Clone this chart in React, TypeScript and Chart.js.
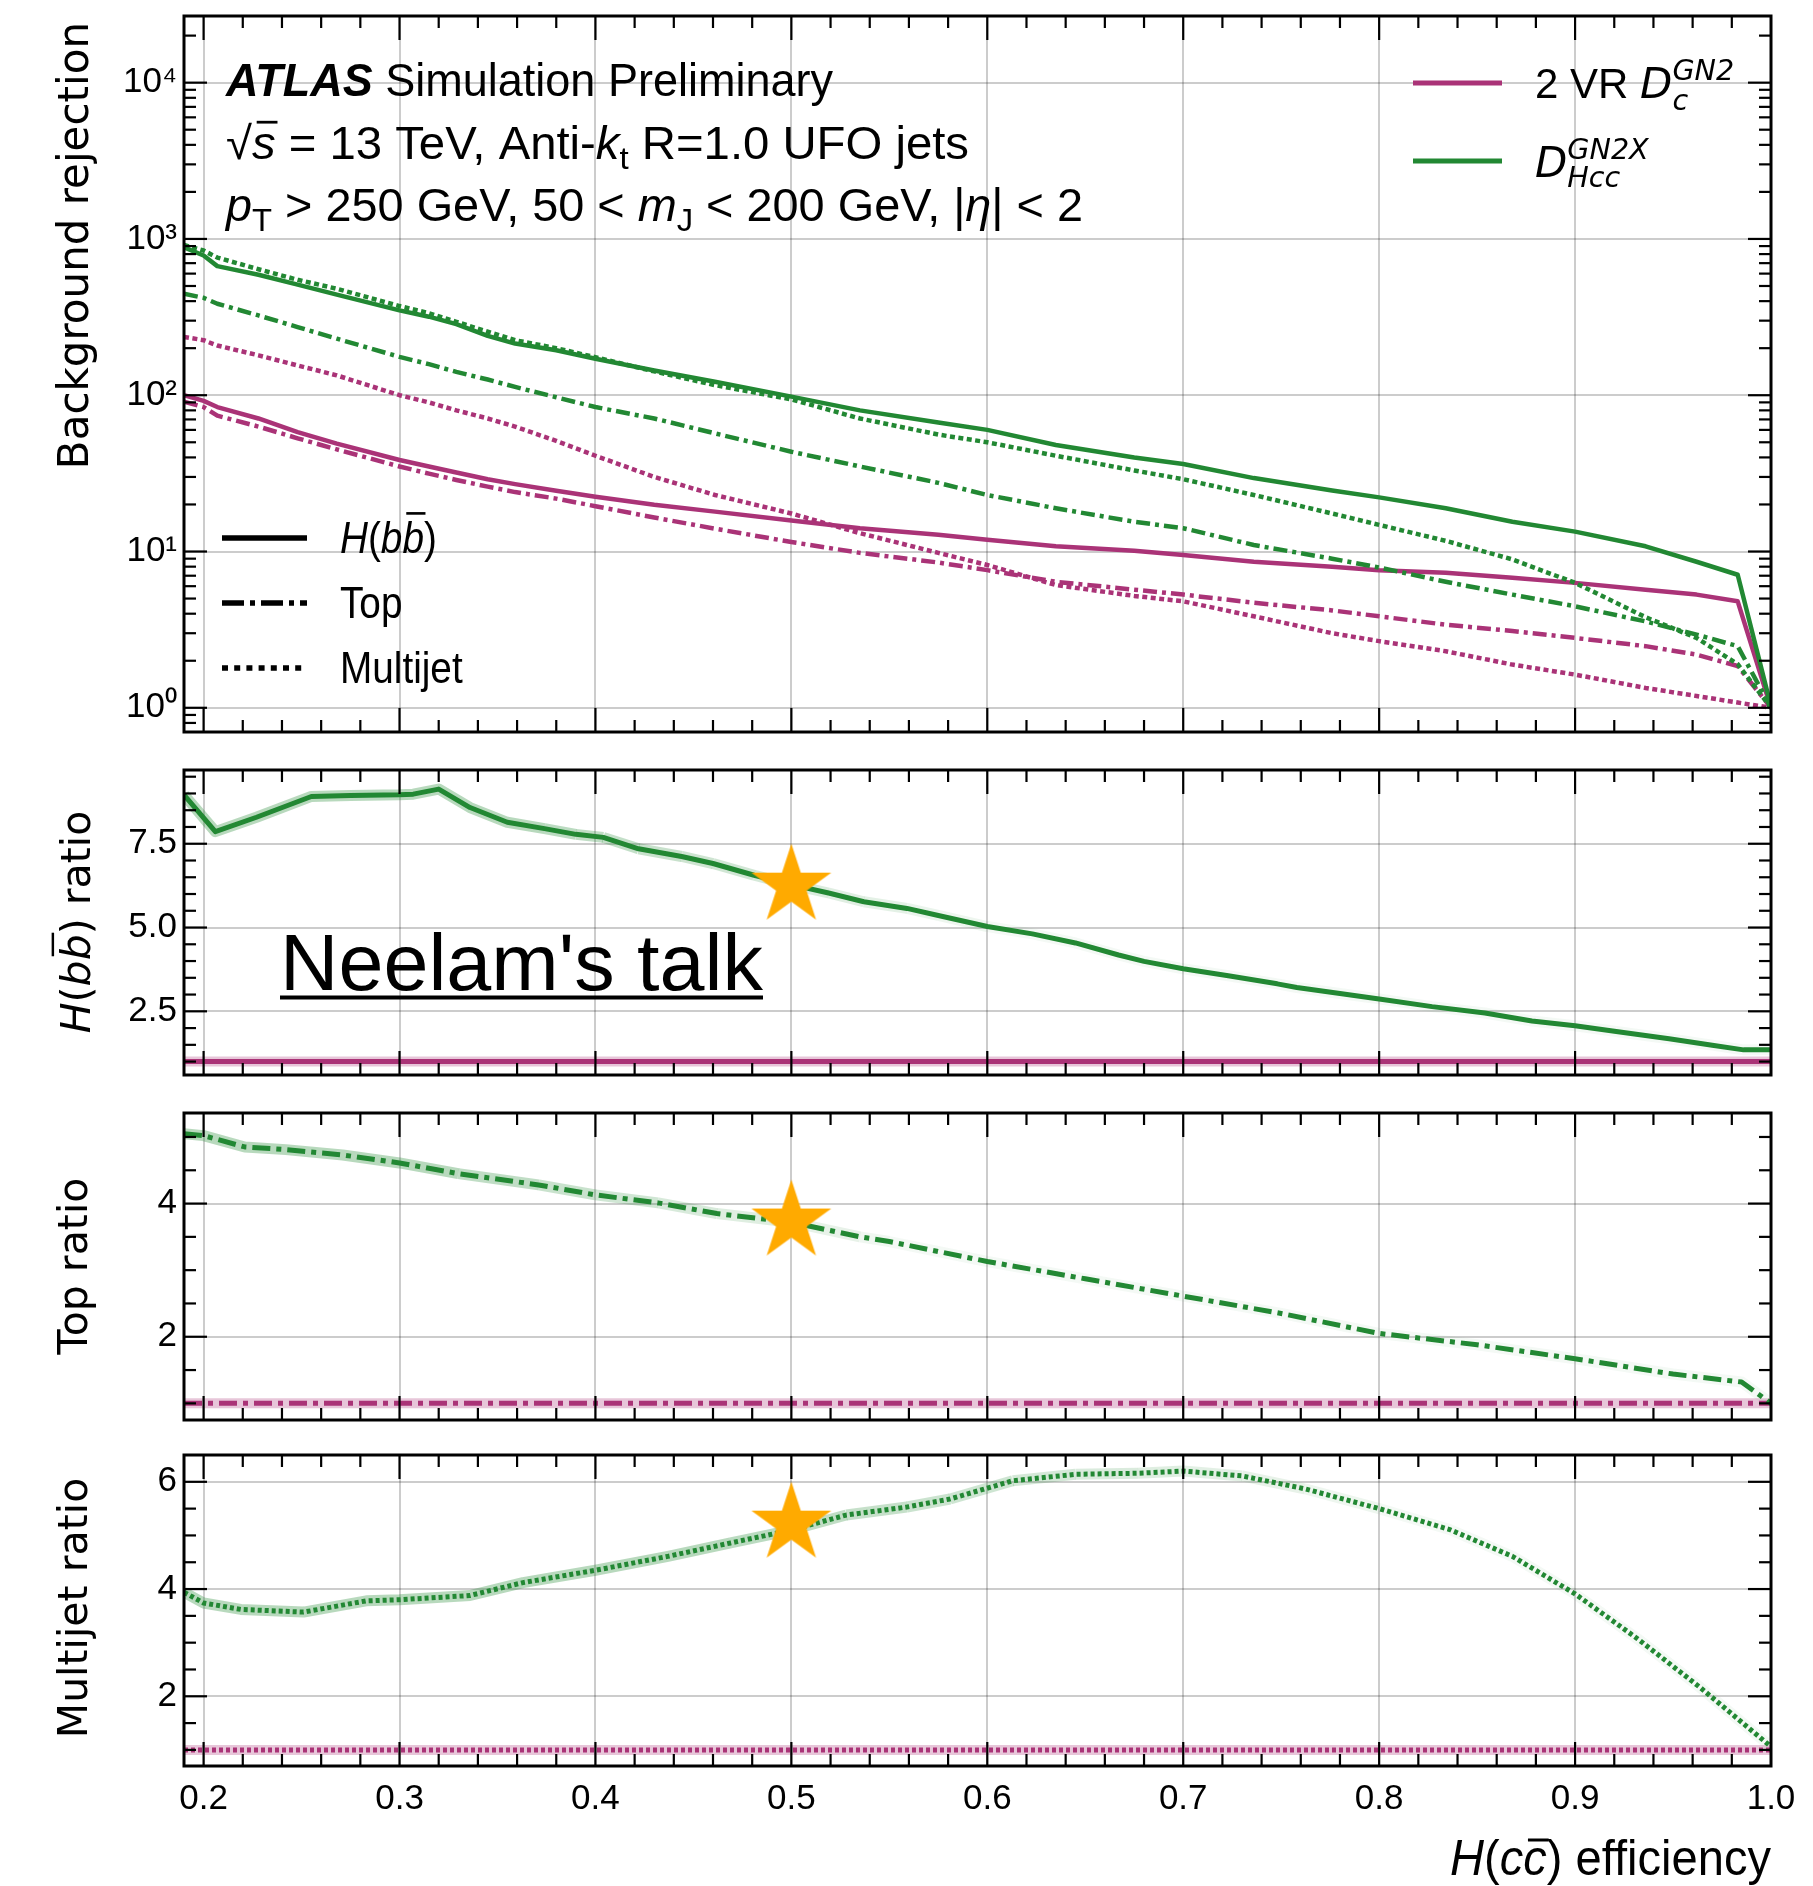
import React, { useEffect, useRef } from 'react';
import { Chart, registerables } from 'chart.js';

Chart.register(...registerables);

// ================= DATA =================
// Top panel: background rejection vs H(cc) efficiency
const effTop = [0.19, 0.2, 0.207, 0.228, 0.248, 0.268, 0.3, 0.315, 0.329, 0.345, 0.359, 0.38, 0.4, 0.43, 0.461, 0.5, 0.535, 0.575, 0.6, 0.635, 0.675, 0.7, 0.736, 0.776, 0.8, 0.834, 0.868, 0.9, 0.936, 0.962, 0.983, 1.0];
const gn2xHbbRej = [885, 783, 670, 590, 510, 440, 349, 318, 285, 240, 214, 194, 171, 144, 122, 98, 80, 67, 60, 48, 40, 36.3, 29.5, 24.6, 22.2, 18.9, 15.5, 13.4, 10.8, 8.6, 7.1, 1.02];
const gn2xTopRej = [446, 420, 385, 324, 273, 230, 176, 158, 141, 126, 113, 97, 84, 71, 57, 43.5, 35, 27.5, 23, 18.9, 15.5, 14.1, 11, 9.0, 7.9, 6.4, 5.3, 4.46, 3.57, 2.94, 2.48, 1.0];
const gn2xMJRej = [915, 843, 760, 640, 548, 480, 372, 335, 295, 255, 225, 200, 175, 142, 116, 94, 71, 56, 50, 41, 33, 29, 23, 17.5, 14.8, 11.7, 8.9, 6.3, 3.8, 2.8, 1.9, 1.0];
const gn2HbbRej = [100, 92, 84, 71, 58, 49, 38.5, 35, 32, 29, 27, 24.5, 22.4, 19.9, 18, 15.8, 14.1, 12.8, 11.9, 10.8, 10.1, 9.5, 8.6, 8.0, 7.6, 7.3, 6.8, 6.3, 5.7, 5.3, 4.8, 1.0];
const gn2TopRej = [91, 84, 74, 63, 53, 45, 35, 31.5, 28.7, 26, 24, 21.8, 19.5, 16.5, 14.0, 11.5, 9.8, 8.5, 7.6, 6.4, 5.7, 5.3, 4.7, 4.2, 3.85, 3.4, 3.1, 2.8, 2.48, 2.19, 1.85, 1.0];
const gn2MJRej = [236, 225, 208, 180, 155, 134, 100, 90, 80, 71, 63, 51, 41, 30, 23, 17.5, 13.1, 9.8, 8.2, 6.1, 5.2, 4.8, 3.85, 3.0, 2.67, 2.3, 1.89, 1.63, 1.34, 1.19, 1.08, 1.0];

// Ratio panels (GN2X / GN2)
const ratioEffHbb = [0.19, 0.206, 0.227, 0.255, 0.275, 0.3, 0.307, 0.32, 0.336, 0.355, 0.374, 0.39, 0.404, 0.422, 0.444, 0.46, 0.481, 0.5, 0.519, 0.537, 0.559, 0.575, 0.6, 0.623, 0.645, 0.667, 0.68, 0.7, 0.723, 0.748, 0.758, 0.78, 0.8, 0.827, 0.854, 0.878, 0.9, 0.921, 0.948, 0.97, 0.986, 1.0];
const ratioHbb = [8.96, 7.86, 8.29, 8.91, 8.94, 8.96, 8.98, 9.13, 8.58, 8.14, 7.95, 7.78, 7.69, 7.35, 7.12, 6.91, 6.56, 6.28, 6.03, 5.77, 5.57, 5.36, 5.03, 4.81, 4.54, 4.18, 3.99, 3.77, 3.56, 3.32, 3.21, 3.03, 2.87, 2.64, 2.45, 2.21, 2.07, 1.9, 1.68, 1.49, 1.35, 1.35];
const ratioEffTop = [0.19, 0.2, 0.221, 0.242, 0.271, 0.3, 0.33, 0.371, 0.4, 0.432, 0.462, 0.5, 0.535, 0.55, 0.6, 0.65, 0.7, 0.75, 0.8, 0.85, 0.9, 0.95, 0.985, 1.0];
const ratioTop = [5.05, 5.02, 4.85, 4.81, 4.73, 4.61, 4.45, 4.28, 4.13, 4.01, 3.85, 3.72, 3.5, 3.43, 3.13, 2.87, 2.61, 2.35, 2.05, 1.88, 1.67, 1.44, 1.32, 1.0];
const ratioEffMJ = [0.19, 0.2, 0.219, 0.251, 0.283, 0.3, 0.336, 0.363, 0.4, 0.437, 0.469, 0.5, 0.528, 0.559, 0.581, 0.613, 0.645, 0.677, 0.7, 0.73, 0.762, 0.8, 0.836, 0.868, 0.9, 0.932, 0.964, 1.0];
const ratioMJ = [3.94, 3.74, 3.62, 3.57, 3.78, 3.8, 3.88, 4.12, 4.35, 4.61, 4.86, 5.1, 5.38, 5.53, 5.68, 6.02, 6.14, 6.16, 6.2, 6.11, 5.87, 5.5, 5.11, 4.61, 3.91, 3.07, 2.16, 1.06];
const refEff = [0.19, 1.0];
const refRatio = [1, 1];

// Working-point stars
const starEff = [0.5];
const starHbb = [6.25];
const starTop = [3.73];
const starMJ = [5.22];

// Tick labels
const xTickValues = [0.2, 0.3, 0.4, 0.5, 0.6, 0.7, 0.8, 0.9, 1.0];
const xTickLabels = ['0.2', '0.3', '0.4', '0.5', '0.6', '0.7', '0.8', '0.9', '1.0'];
const rejTickValues = [1, 10, 100, 1000, 10000];
const rejTickLabels = ['10\u2070', '10\u00B9', '10\u00B2', '10\u00B3', '10\u2074'];
const hbbTickValues = [2.5, 5, 7.5];
const hbbTickLabels = ['2.5', '5.0', '7.5'];
const topTickValues = [2, 4];
const topTickLabels = ['2', '4'];
const mjTickValues = [2, 4, 6];
const mjTickLabels = ['2', '4', '6'];

// ================= STYLE =================
const MAGENTA = '#AA3377';
const GREEN = '#228833';
const STAR = '#FFAA00';
const HALO_M = 'rgba(170,51,119,0.28)';
const GRID = 'rgba(0,0,0,0.2)';
const SANS = '"Liberation Sans", Arial, Helvetica, sans-serif';
const DJV = '"DejaVu Sans", sans-serif';
const DASHDOT = [14, 5, 4, 5];
const DOT = [5, 3.5];
const R_DASHDOT = [18, 6, 5, 6];
const R_DOT = [4, 3];
const LEG_DASHDOT = [22, 6, 5, 6];
const LEG_DOT = [6, 6.2];

const PAGE_W = 1813;
const PLOT_L = 184;
const PLOT_R = 1771;
const X_MIN = 0.19;
const X_MAX = 1.0;

const close = (a: number, b: number) => Math.abs(a - b) < 1e-6 * Math.max(1, Math.abs(b));
const labelFor = (vals: number[], labs: string[], v: number) => {
  const i = vals.findIndex((m) => close(m, v));
  return i >= 0 ? labs[i] : '';
};
const pts = (xs: number[], ys: number[]) => xs.map((x, i) => ({ x, y: ys[i] }));

const xMinorTicks = Array.from({ length: 41 }, (_, i) => Math.round((0.2 + 0.02 * i) * 100) / 100);
function linTicks(min: number, max: number, step: number) {
  const out: number[] = [];
  for (let v = Math.ceil(min / step - 1e-9) * step; v <= max + 1e-9; v += step) out.push(Math.round(v * 1000) / 1000);
  return out;
}
function logTicks(min: number, max: number) {
  const out: number[] = [];
  for (let e = Math.floor(Math.log10(min)); e <= Math.floor(Math.log10(max)); e++) {
    for (let m = 1; m <= 9; m++) {
      const v = parseFloat((m * Math.pow(10, e)).toPrecision(6));
      if (v >= min && v <= max) out.push(v);
    }
  }
  return out;
}

// ================= TEXT HELPERS =================
type Run = { t: string; it?: boolean; b?: boolean; s?: number; dy?: number; fam?: string; over?: boolean; ov?: number; stack?: boolean };
function setFont(ctx: CanvasRenderingContext2D, r: Run, size: number, fam: string) {
  ctx.font = `${r.it ? 'italic ' : ''}${r.b ? 'bold ' : ''}${(size * (r.s ?? 1)).toFixed(1)}px ${r.fam ?? fam}`;
}
function runsWidth(ctx: CanvasRenderingContext2D, runs: Run[], size: number, fam: string) {
  let w = 0;
  let pend = 0;
  for (const r of runs) {
    setFont(ctx, r, size, fam);
    const m = ctx.measureText(r.t).width;
    if (r.stack) pend = m;
    else {
      w += Math.max(m, pend);
      pend = 0;
    }
  }
  return w + pend;
}
function drawRuns(
  ctx: CanvasRenderingContext2D,
  runs: Run[],
  x: number,
  y: number,
  size: number,
  fam: string,
  o: { align?: 'left' | 'right' | 'center'; width?: number; sx?: number } = {}
) {
  const w = runsWidth(ctx, runs, size, fam);
  const sx = o.width ? o.width / w : o.sx ?? 1;
  const tw = w * sx;
  const x0 = o.align === 'right' ? x - tw : o.align === 'center' ? x - tw / 2 : x;
  ctx.save();
  ctx.translate(x0, y);
  ctx.scale(sx, 1);
  ctx.fillStyle = '#000';
  ctx.strokeStyle = '#000';
  ctx.textBaseline = 'alphabetic';
  ctx.textAlign = 'left';
  let cx = 0;
  let pend = 0;
  for (const r of runs) {
    setFont(ctx, r, size, fam);
    const m = ctx.measureText(r.t).width;
    const fs = size * (r.s ?? 1);
    const dy = (r.dy ?? 0) * size;
    ctx.fillText(r.t, cx, dy);
    if (r.over) {
      const oy = dy - fs * (r.ov ?? 0.88);
      ctx.lineWidth = Math.max(2, fs * 0.06);
      ctx.beginPath();
      ctx.moveTo(cx + fs * 0.1, oy);
      ctx.lineTo(cx + m + fs * 0.04, oy);
      ctx.stroke();
    }
    if (r.stack) pend = m;
    else {
      cx += Math.max(m, pend);
      pend = 0;
    }
  }
  ctx.restore();
  return tw;
}
function vTitle(ctx: CanvasRenderingContext2D, runs: Run[], cx: number, cy: number, size: number, fam: string, align: 'left' | 'right' | 'center') {
  ctx.save();
  ctx.translate(cx, cy);
  ctx.rotate(-Math.PI / 2);
  drawRuns(ctx, runs, 0, size * 0.36, size, fam, { align });
  ctx.restore();
}
function hLine(ctx: CanvasRenderingContext2D, x1: number, x2: number, y: number, color: string, w: number, dash: number[]) {
  ctx.save();
  ctx.strokeStyle = color;
  ctx.lineWidth = w;
  ctx.lineCap = 'butt';
  ctx.setLineDash(dash);
  ctx.beginPath();
  ctx.moveTo(x1, y);
  ctx.lineTo(x2, y);
  ctx.stroke();
  ctx.restore();
}

function makeStar(R: number, color: string) {
  const c = document.createElement('canvas');
  const s = Math.ceil(2 * R + 4);
  c.width = s;
  c.height = s;
  const g = c.getContext('2d')!;
  g.translate(s / 2, s / 2);
  g.beginPath();
  for (let i = 0; i < 10; i++) {
    const r = i % 2 === 0 ? R : R * 0.382;
    const a = -Math.PI / 2 + (i * Math.PI) / 5;
    g.lineTo(r * Math.cos(a), r * Math.sin(a));
  }
  g.closePath();
  g.fillStyle = color;
  g.fill();
  return c;
}

// ================= PANELS =================
type Spec = {
  top: number;
  bottom: number;
  canvasTop: number;
  canvasH: number;
  xAxisH: number;
  showX: boolean;
  yType: 'linear' | 'logarithmic';
  yMin: number;
  yMax: number;
  yMajor: number[];
  yLabels: string[];
  datasets: any[];
  draw: (ctx: CanvasRenderingContext2D) => void;
};

const lineDs = (xs: number[], ys: number[], color: string, dash: number[], width: number) => ({
  data: pts(xs, ys),
  borderColor: color,
  backgroundColor: color,
  borderWidth: width,
  borderDash: dash,
  borderCapStyle: 'butt',
  borderJoinStyle: 'round',
  pointRadius: 0,
  pointHoverRadius: 0,
  fill: false,
  tension: 0,
});
// translucent uncertainty halo that fades towards high efficiency
const haloDs = (xs: number[], ys: number[], fadeFrom: number, fadeTo: number) => ({
  ...lineDs(xs, ys, 'rgba(34,136,51,0.3)', [], 11),
  segment: {
    borderColor: (c: any) => {
      const x = c.p0.parsed.x;
      const a = x <= fadeFrom ? 0.32 : x >= fadeTo ? 0.05 : 0.32 - ((x - fadeFrom) / (fadeTo - fadeFrom)) * 0.27;
      return `rgba(34,136,51,${a.toFixed(3)})`;
    },
  },
});
const starDs = (xs: number[], ys: number[], img: HTMLCanvasElement) => ({
  data: pts(xs, ys),
  showLine: false,
  pointStyle: img,
  pointRadius: 20,
  pointHoverRadius: 20,
  borderWidth: 0,
  backgroundColor: STAR,
  borderColor: STAR,
});

function buildSpecs(star: HTMLCanvasElement): Spec[] {
  const p1: Spec = {
    top: 16, bottom: 732, canvasTop: 2, canvasH: 744, xAxisH: 14, showX: false,
    yType: 'logarithmic', yMin: 0.724, yMax: 26700, yMajor: rejTickValues, yLabels: rejTickLabels,
    datasets: [
      lineDs(effTop, gn2xHbbRej, GREEN, [], 4.5),
      lineDs(effTop, gn2xTopRej, GREEN, DASHDOT, 4.5),
      lineDs(effTop, gn2xMJRej, GREEN, DOT, 4.5),
      lineDs(effTop, gn2HbbRej, MAGENTA, [], 4.5),
      lineDs(effTop, gn2TopRej, MAGENTA, DASHDOT, 4.5),
      lineDs(effTop, gn2MJRej, MAGENTA, DOT, 4.5),
    ],
    draw: (ctx) => {
      drawRuns(ctx, [{ t: 'ATLAS', b: true, it: true }, { t: ' Simulation Preliminary' }], 226, 96, 46, SANS, { width: 607 });
      drawRuns(
        ctx,
        [
          { t: '\u221A' },
          { t: 's', it: true, over: true, ov: 0.8 },
          { t: ' = 13 TeV, Anti-' },
          { t: 'k', it: true },
          { t: 't', s: 0.7, dy: 0.22 },
          { t: ' R=1.0 UFO jets' },
        ],
        226, 159, 46, SANS, { width: 743 }
      );
      drawRuns(
        ctx,
        [
          { t: 'p', it: true },
          { t: 'T', s: 0.7, dy: 0.22 },
          { t: ' > 250 GeV, 50 < ' },
          { t: 'm', it: true },
          { t: 'J', s: 0.7, dy: 0.22 },
          { t: ' < 200 GeV, |' },
          { t: '\u03B7', it: true },
          { t: '| < 2' },
        ],
        226, 221, 46, SANS, { width: 857 }
      );
      // top-right legend
      hLine(ctx, 1413, 1502, 83, MAGENTA, 5, []);
      hLine(ctx, 1413, 1502, 161, GREEN, 5, []);
      drawRuns(
        ctx,
        [
          { t: '2 VR ', fam: SANS },
          { t: 'D', it: true },
          { t: 'GN2', it: true, s: 0.68, dy: -0.43, stack: true },
          { t: 'c', it: true, s: 0.68, dy: 0.29 },
        ],
        1535, 98, 42, DJV
      );
      drawRuns(
        ctx,
        [
          { t: 'D', it: true },
          { t: 'GN2X', it: true, s: 0.68, dy: -0.43, stack: true },
          { t: 'Hcc', it: true, s: 0.68, dy: 0.24 },
        ],
        1535, 177, 42, DJV
      );
      // bottom-left style legend
      hLine(ctx, 222, 307, 538, '#000', 5.5, []);
      hLine(ctx, 222, 307, 603, '#000', 5.5, LEG_DASHDOT);
      hLine(ctx, 222, 307, 668, '#000', 5.5, LEG_DOT);
      drawRuns(ctx, [{ t: 'H', it: true }, { t: '(' }, { t: 'b', it: true }, { t: 'b', it: true, over: true, ov: 0.9 }, { t: ')' }], 340, 553, 44, SANS, { sx: 0.88 });
      drawRuns(ctx, [{ t: 'Top' }], 340, 618, 44, SANS, { sx: 0.88 });
      drawRuns(ctx, [{ t: 'Multijet' }], 340, 683, 44, SANS, { sx: 0.88 });
      vTitle(ctx, [{ t: 'Background rejection' }], 73, 22, 42, DJV, 'right');
    },
  };
  const p2: Spec = {
    top: 764, bottom: 1081, canvasTop: 750, canvasH: 345, xAxisH: 14, showX: false,
    yType: 'linear', yMin: 0.6, yMax: 9.7, yMajor: hbbTickValues, yLabels: hbbTickLabels,
    datasets: [
      starDs(starEff, starHbb, star),
      lineDs(ratioEffHbb, ratioHbb, GREEN, [], 5),
      lineDs(refEff, refRatio, MAGENTA, [], 5),
      haloDs(ratioEffHbb, ratioHbb, 0.36, 0.6),
      lineDs(refEff, refRatio, HALO_M, [], 10),
    ],
    draw: (ctx) => {
      const w = drawRuns(ctx, [{ t: "Neelam's talk" }], 280, 990, 80, SANS, { width: 483 });
      ctx.fillStyle = '#000';
      ctx.fillRect(280, 995.5, w, 4);
      vTitle(
        ctx,
        [{ t: 'H', it: true }, { t: '(' }, { t: 'b', it: true }, { t: 'b', it: true, over: true, ov: 0.9 }, { t: ')' }, { t: ' ratio' }],
        75, 922, 41, DJV, 'center'
      );
    },
  };
  const p3: Spec = {
    top: 1107, bottom: 1426, canvasTop: 1093, canvasH: 347, xAxisH: 14, showX: false,
    yType: 'linear', yMin: 0.75, yMax: 5.36, yMajor: topTickValues, yLabels: topTickLabels,
    datasets: [
      starDs(starEff, starTop, star),
      lineDs(ratioEffTop, ratioTop, GREEN, R_DASHDOT, 5),
      lineDs(refEff, refRatio, MAGENTA, R_DASHDOT, 5),
      haloDs(ratioEffTop, ratioTop, 0.3, 0.55),
      lineDs(refEff, refRatio, HALO_M, [], 10),
    ],
    draw: (ctx) => {
      vTitle(ctx, [{ t: 'Top ratio' }], 72, 1266, 41, DJV, 'center');
    },
  };
  const p4: Spec = {
    top: 1449, bottom: 1766, canvasTop: 1435, canvasH: 451, xAxisH: 120, showX: true,
    yType: 'linear', yMin: 0.7, yMax: 6.5, yMajor: mjTickValues, yLabels: mjTickLabels,
    datasets: [
      starDs(starEff, starMJ, star),
      lineDs(ratioEffMJ, ratioMJ, GREEN, R_DOT, 5),
      lineDs(refEff, refRatio, MAGENTA, R_DOT, 5),
      haloDs(ratioEffMJ, ratioMJ, 0.45, 0.8),
      lineDs(refEff, refRatio, HALO_M, [], 10),
    ],
    draw: (ctx) => {
      vTitle(ctx, [{ t: 'Multijet ratio' }], 72, 1608, 41, DJV, 'center');
      drawRuns(
        ctx,
        [{ t: 'H', it: true }, { t: '(' }, { t: 'c', it: true }, { t: 'c', it: true, over: true, ov: 0.7 }, { t: ')' }, { t: ' efficiency' }],
        1771, 1875, 50, SANS, { align: 'right', width: 321 }
      );
    },
  };
  return [p1, p2, p3, p4];
}

function framePlugin(spec: Spec) {
  return {
    id: 'frameTicks',
    afterDraw(chart: any) {
      const { ctx, chartArea: a } = chart;
      const xs = chart.scales.x;
      const ys = chart.scales.y;
      ctx.save();
      ctx.strokeStyle = '#000';
      ctx.lineWidth = 2.2;
      ctx.lineCap = 'butt';
      const seg = (x1: number, y1: number, x2: number, y2: number) => {
        ctx.beginPath();
        ctx.moveTo(x1, y1);
        ctx.lineTo(x2, y2);
        ctx.stroke();
      };
      for (const t of xs.ticks) {
        const p = xs.getPixelForValue(t.value);
        if (p <= a.left + 2 || p >= a.right - 2) continue;
        const L = xTickValues.some((m) => close(m, t.value)) ? 24 : 12;
        seg(p, a.bottom, p, a.bottom - L);
        seg(p, a.top, p, a.top + L);
      }
      for (const t of ys.ticks) {
        const p = ys.getPixelForValue(t.value);
        if (p <= a.top + 2 || p >= a.bottom - 2) continue;
        const L = spec.yMajor.some((m) => close(m, t.value)) ? 23 : 12;
        seg(a.left, p, a.left + L, p);
        seg(a.right, p, a.right - L, p);
      }
      ctx.lineWidth = 3;
      ctx.strokeRect(a.left, a.top, a.right - a.left, a.bottom - a.top);
      ctx.translate(0, -spec.canvasTop);
      spec.draw(ctx);
      ctx.restore();
    },
  };
}

const zeroPad = (ax: any) => {
  ax.paddingTop = 0;
  ax.paddingBottom = 0;
  ax.paddingLeft = 0;
  ax.paddingRight = 0;
};

function buildConfig(spec: Spec): any {
  const yTicks = spec.yType === 'logarithmic' ? logTicks(spec.yMin, spec.yMax) : linTicks(spec.yMin, spec.yMax, 0.5);
  const tickFont = { family: SANS, size: 35 };
  return {
    type: 'line',
    data: { datasets: spec.datasets },
    options: {
      animation: false,
      responsive: false,
      maintainAspectRatio: false,
      events: [],
      layout: { padding: { top: spec.top - spec.canvasTop, right: PAGE_W - PLOT_R, left: 0, bottom: 0 } },
      plugins: { legend: { display: false }, tooltip: { enabled: false } },
      scales: {
        x: {
          type: 'linear',
          min: X_MIN,
          max: X_MAX,
          afterBuildTicks: (ax: any) => {
            ax.ticks = xMinorTicks.map((v) => ({ value: v }));
          },
          afterFit: (ax: any) => {
            ax.height = spec.xAxisH;
            zeroPad(ax);
          },
          ticks: {
            display: spec.showX,
            autoSkip: false,
            maxRotation: 0,
            minRotation: 0,
            padding: 12,
            color: '#000',
            font: tickFont,
            callback: (v: number) => labelFor(xTickValues, xTickLabels, v),
          },
          grid: {
            color: (c: any) => (c.tick && xTickValues.some((m) => close(m, c.tick.value)) ? GRID : 'rgba(0,0,0,0)'),
            lineWidth: 2,
            drawTicks: false,
            tickLength: 0,
          },
          border: { display: false },
        },
        y: {
          type: spec.yType,
          min: spec.yMin,
          max: spec.yMax,
          afterBuildTicks: (ax: any) => {
            ax.ticks = yTicks.map((v) => ({ value: v }));
          },
          afterFit: (ax: any) => {
            ax.width = PLOT_L;
            zeroPad(ax);
          },
          ticks: {
            autoSkip: false,
            padding: 7,
            color: '#000',
            font: tickFont,
            callback: (v: number) => labelFor(spec.yMajor, spec.yLabels, v),
          },
          grid: {
            color: (c: any) => (c.tick && spec.yMajor.some((m) => close(m, c.tick.value)) ? GRID : 'rgba(0,0,0,0)'),
            lineWidth: 2,
            drawTicks: false,
            tickLength: 0,
          },
          border: { display: false },
        },
      },
    },
    plugins: [framePlugin(spec)],
  };
}

const LAYOUT = [
  { canvasTop: 2, canvasH: 744 },
  { canvasTop: 750, canvasH: 345 },
  { canvasTop: 1093, canvasH: 347 },
  { canvasTop: 1435, canvasH: 451 },
];

export default function App() {
  const r0 = useRef<HTMLCanvasElement>(null);
  const r1 = useRef<HTMLCanvasElement>(null);
  const r2 = useRef<HTMLCanvasElement>(null);
  const r3 = useRef<HTMLCanvasElement>(null);
  const refs = [r0, r1, r2, r3];

  useEffect(() => {
    const star = makeStar(42, STAR);
    const specs = buildSpecs(star);
    const charts = specs.map((s, i) => new Chart(refs[i].current as HTMLCanvasElement, buildConfig(s)));
    return () => charts.forEach((c) => c.destroy());
  }, []);

  return (
    <div style={{ position: 'absolute', left: 0, top: 0, width: PAGE_W, height: 1886, background: '#fff' }}>
      {LAYOUT.map((l, i) => (
        <canvas
          key={i}
          ref={refs[i]}
          width={PAGE_W}
          height={l.canvasH}
          style={{ position: 'absolute', left: 0, top: l.canvasTop, width: PAGE_W, height: l.canvasH }}
        />
      ))}
    </div>
  );
}
